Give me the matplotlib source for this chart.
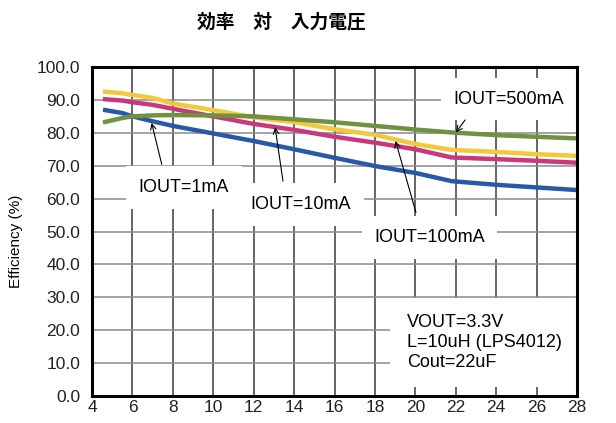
import matplotlib.pyplot as plt
from matplotlib.ticker import FormatStrFormatter

# -----------------------------
# Data
# -----------------------------
vin = [4.65, 5.5, 6, 7, 8, 10, 12, 14, 16, 18, 20, 21.8, 24, 26, 28]
eff_1ma = [86.9, 86.0, 85.0, 83.5, 82.1, 79.8, 77.5, 75.0, 72.4, 69.9, 67.8, 65.3, 64.2, 63.4, 62.6]
eff_10ma = [90.2, 89.8, 89.3, 88.5, 87.3, 85.0, 82.7, 80.9, 78.8, 77.0, 75.0, 72.5, 72.0, 71.5, 70.9]
eff_100ma = [92.5, 92.0, 91.5, 90.6, 88.9, 86.9, 84.7, 83.2, 81.1, 79.4, 76.6, 74.8, 74.2, 73.5, 73.0]
eff_500ma = [83.3, 84.5, 85.0, 85.3, 85.4, 85.3, 85.0, 84.1, 83.2, 82.1, 81.0, 80.1, 79.3, 78.8, 78.3]

x_ticks = list(range(4, 29, 2))
y_ticks = list(range(0, 101, 10))

plt.rcParams['font.family'] = ['Liberation Sans', 'Noto Sans CJK JP', 'DejaVu Sans']

fig = plt.figure(figsize=(6.16, 4.23), dpi=100)
ax = fig.add_axes([0.1494, 0.0638, 0.7873, 0.7778])

# grid first, lines on top
for x in x_ticks[1:-1]:
    ax.axvline(x, color="#3a3a3a", lw=1.1, zorder=0.5)
for y in y_ticks[1:-1]:
    ax.axhline(y, color="#8a8a8a", lw=1.1, zorder=0.5)

ax.plot(vin, eff_1ma, color="#2759a9", lw=3.2, zorder=2)
ax.plot(vin, eff_100ma, color="#f3c83a", lw=3.2, zorder=2)
ax.plot(vin, eff_10ma, color="#c8387a", lw=3.2, zorder=2)
ax.plot(vin, eff_500ma, color="#6f9140", lw=3.2, zorder=2)

ax.set_xlim(4, 28)
ax.set_ylim(0, 100)
ax.set_xticks(x_ticks)
ax.set_yticks(y_ticks)
ax.yaxis.set_major_formatter(FormatStrFormatter("%.1f"))
ax.tick_params(length=0, labelsize=12.5, colors="#222222")
ax.tick_params(axis="y", pad=8.5)
ax.tick_params(axis="x", pad=3)
for s in ax.spines.values():
    s.set_linewidth(2.2)
    s.set_zorder(5)
ax.set_ylabel("Efficiency (%)", fontsize=11)
ax.yaxis.set_label_coords(-0.143, 0.47)

# -----------------------------
# Labels with arrows
# -----------------------------
box = dict(boxstyle="square,pad=0.7", fc="white", ec="none")
arrow = dict(arrowstyle="->", color="black", lw=0.8, shrinkA=0, shrinkB=0)
fs = 13

ax.text(8.55, 63.4, "IOUT=1mA", fontsize=fs, ha="center", va="center", bbox=box, zorder=3)
ax.annotate("", xy=(6.95, 83.0), xytext=(7.45, 70.4), arrowprops=arrow, zorder=4)

ax.text(14.34, 58.2, "IOUT=10mA", fontsize=fs, ha="center", va="center", bbox=box, zorder=3)
ax.annotate("", xy=(13.06, 81.7), xytext=(13.45, 65.3), arrowprops=arrow, zorder=4)

ax.text(20.7, 48.2, "IOUT=100mA", fontsize=fs, ha="center", va="center", bbox=box, zorder=3)
ax.annotate("", xy=(19.02, 77.5), xytext=(20.03, 55.8), arrowprops=arrow, zorder=4)

ax.text(24.63, 90.2, "IOUT=500mA", fontsize=fs, ha="center", va="center", bbox=box, zorder=3)
ax.annotate("", xy=(22.01, 80.1), xytext=(22.46, 83.9), arrowprops=arrow, zorder=4)

ax.text(19.57, 16.3, "VOUT=3.3V\nL=10uH (LPS4012)\nCout=22uF", fontsize=fs,
        ha="left", va="center", linespacing=1.22,
        bbox=dict(boxstyle="square,pad=0.9", fc="white", ec="none"), zorder=3)

fig.text(0.457, 0.948, "効率　対　入力電圧", fontsize=13.5, fontweight="bold",
         ha="center", va="center", family=['Noto Sans CJK JP', 'DejaVu Sans'])

fig.savefig("out.png", dpi=100)
